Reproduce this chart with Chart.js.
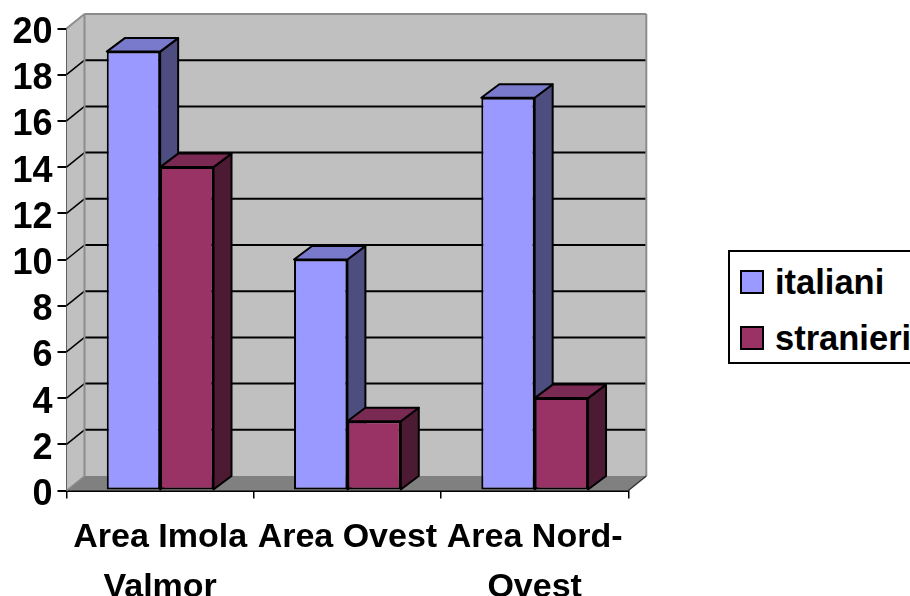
<!DOCTYPE html>
<html lang="it">
<head>
<meta charset="utf-8">
<title>italiani / stranieri per area</title>
<script src="https://cdn.jsdelivr.net/npm/chart.js@4"></script>
<style>
    html, body { margin: 0; padding: 0; background: #fff; overflow: hidden; }
    #wrap { position: relative; width: 910px; height: 596px; overflow: hidden; }
    #legend {
        position: absolute; left: 728px; top: 250px; width: 190px; height: 110px;
        border: 2px solid #000; background: #fff; box-sizing: content-box;
        font: bold 34.5px "Liberation Sans", Arial, sans-serif; color: #000;
    }
    .leg-item { position: absolute; left: 10px; display: flex; align-items: center; height: 24px; white-space: nowrap; }
    .leg-item:nth-child(1) { top: 18px; }
    .leg-item:nth-child(2) { top: 74px; }
    .leg-dot { width: 20px; height: 20px; border: 2px solid #000; margin-right: 11px; flex: none; }
</style>
</head>
<body>
<div id="wrap">
    <canvas id="chart" width="910" height="596"></canvas>
    <div id="legend"></div>
</div>
<script>
const categories = [['Area Imola', 'Valmor'], 'Area Ovest', ['Area Nord-', 'Ovest']];
const italiani = [19, 10, 17];
const stranieri = [14, 3, 4];
const seriesNames = ['italiani', 'stranieri'];
const frontColors = ['#9999FF', '#993366'];
const topColors = ['#7A7ACC', '#7A2952'];
const sideColors = ['#4D4D80', '#4D1A33'];

const FONT = '"Liberation Sans", Arial, sans-serif';
const WALL = '#C0C0C0', FLOOR = '#808080', EDGE = '#8C8C8C';
// spostamento prospettico di pareti e barre
const WALL_DX = 18, WALL_DY = 14.5;
const BAR_DX = 18, BAR_DY = 13.5;
const Y_LABEL_SHIFT = 4.5;

function poly(ctx, pts, fill, stroke, lw) {
    ctx.beginPath();
    pts.forEach((p, i) => i ? ctx.lineTo(p[0], p[1]) : ctx.moveTo(p[0], p[1]));
    ctx.closePath();
    if (fill) { ctx.fillStyle = fill; ctx.fill(); }
    if (stroke) { ctx.strokeStyle = stroke; ctx.lineWidth = lw; ctx.lineJoin = 'round'; ctx.stroke(); }
}

function line(ctx, x1, y1, x2, y2, color, lw) {
    ctx.beginPath();
    ctx.moveTo(x1, y1);
    ctx.lineTo(x2, y2);
    ctx.strokeStyle = color;
    ctx.lineWidth = lw;
    ctx.stroke();
}

// pareti, pavimento e griglia, poi i fianchi delle barre
const box3d = {
    id: 'box3d',
    afterLayout(chart) {
        // numeri dell'asse y un po' più in basso rispetto alla tacca
        chart.scales.y.getLabelItems().forEach(it => { it.options.translation[1] += Y_LABEL_SHIFT; });
    },
    beforeDatasetsDraw(chart) {
        const ctx = chart.ctx;
        const { left, right, top, bottom } = chart.chartArea;
        const yScale = chart.scales.y;
        const bx = left + WALL_DX, bxr = right + WALL_DX;
        const by = top - WALL_DY, byb = bottom - WALL_DY;

        ctx.save();
        poly(ctx, [[bx, by], [bxr, by], [bxr, byb], [bx, byb]], WALL);
        poly(ctx, [[left, top], [bx, by], [bx, byb], [left, bottom]], WALL);
        poly(ctx, [[left, bottom], [right, bottom], [bxr, byb], [bx, byb]], FLOOR);

        yScale.ticks.forEach(t => {
            if (t.value <= yScale.min || t.value >= yScale.max) return;
            const y = yScale.getPixelForValue(t.value);
            line(ctx, left, y, bx, y - WALL_DY, '#000', 1.5);
            line(ctx, bx, y - WALL_DY, bxr, y - WALL_DY, '#000', 2);
        });

        line(ctx, bx, by, bx, byb, EDGE, 2);
        line(ctx, bx, by, bxr, by, EDGE, 2);
        line(ctx, bxr, by, bxr, byb, EDGE, 2);
        line(ctx, left, top, bx, by, EDGE, 2);
        line(ctx, left, bottom, bx, byb, EDGE, 1.5);
        line(ctx, right, bottom, bxr, byb, '#333', 1.5);

        chart.data.datasets.forEach((ds, i) => {
            chart.getDatasetMeta(i).data.forEach(bar => {
                const l = bar.x - bar.width / 2, r = bar.x + bar.width / 2;
                const t = bar.y, b = bar.base;
                poly(ctx, [[r, t], [r + BAR_DX, t - BAR_DY], [r + BAR_DX, b - BAR_DY], [r, b]], sideColors[i], '#000', 2);
                poly(ctx, [[l, t], [l + BAR_DX, t - BAR_DY], [r + BAR_DX, t - BAR_DY], [r, t]], topColors[i], '#000', 2);
            });
        });
        ctx.restore();
    }
};

new Chart(document.getElementById('chart'), {
    type: 'bar',
    plugins: [box3d],
    data: {
        labels: categories,
        datasets: [
            { label: seriesNames[0], data: italiani, backgroundColor: frontColors[0] },
            { label: seriesNames[1], data: stranieri, backgroundColor: frontColors[1] }
        ]
    },
    options: {
        responsive: false,
        animation: false,
        layout: { padding: { top: 28.5, right: 281.7, left: 0, bottom: 0 } },
        datasets: {
            bar: {
                categoryPercentage: 0.57,
                barPercentage: 1,
                borderColor: '#000',
                borderWidth: 2,
                borderSkipped: false
            }
        },
        plugins: { legend: { display: false }, tooltip: { enabled: false } },
        scales: {
            x: {
                afterFit: s => { s.height = 105.5; },
                border: { color: '#000', width: 2 },
                grid: { drawOnChartArea: false, color: '#000', lineWidth: 1.5, tickLength: 8 },
                ticks: {
                    color: '#000',
                    autoSkip: false,
                    maxRotation: 0,
                    minRotation: 0,
                    padding: 14,
                    font: { family: FONT, size: 34, weight: 'bold', lineHeight: 1.47 }
                }
            },
            y: {
                min: 0,
                max: 20,
                afterFit: s => { s.width = 66.5; },
                border: { color: '#000', width: 2 },
                grid: { drawOnChartArea: false, color: '#000', lineWidth: 2, tickLength: 9 },
                ticks: {
                    stepSize: 2,
                    color: '#000',
                    padding: 5,
                    font: { family: FONT, size: 36, weight: 'bold' }
                }
            }
        }
    }
});

// legenda a destra, con il bordo che arriva al margine della pagina
function legendHtml(labels, colors) {
    return labels.map((l, i) =>
        `<div class="leg-item"><span class="leg-dot" style="background:${colors[i]}"></span>${l}</div>`
    ).join('');
}
document.getElementById('legend').innerHTML = legendHtml(seriesNames, frontColors);
</script>
</body>
</html>
